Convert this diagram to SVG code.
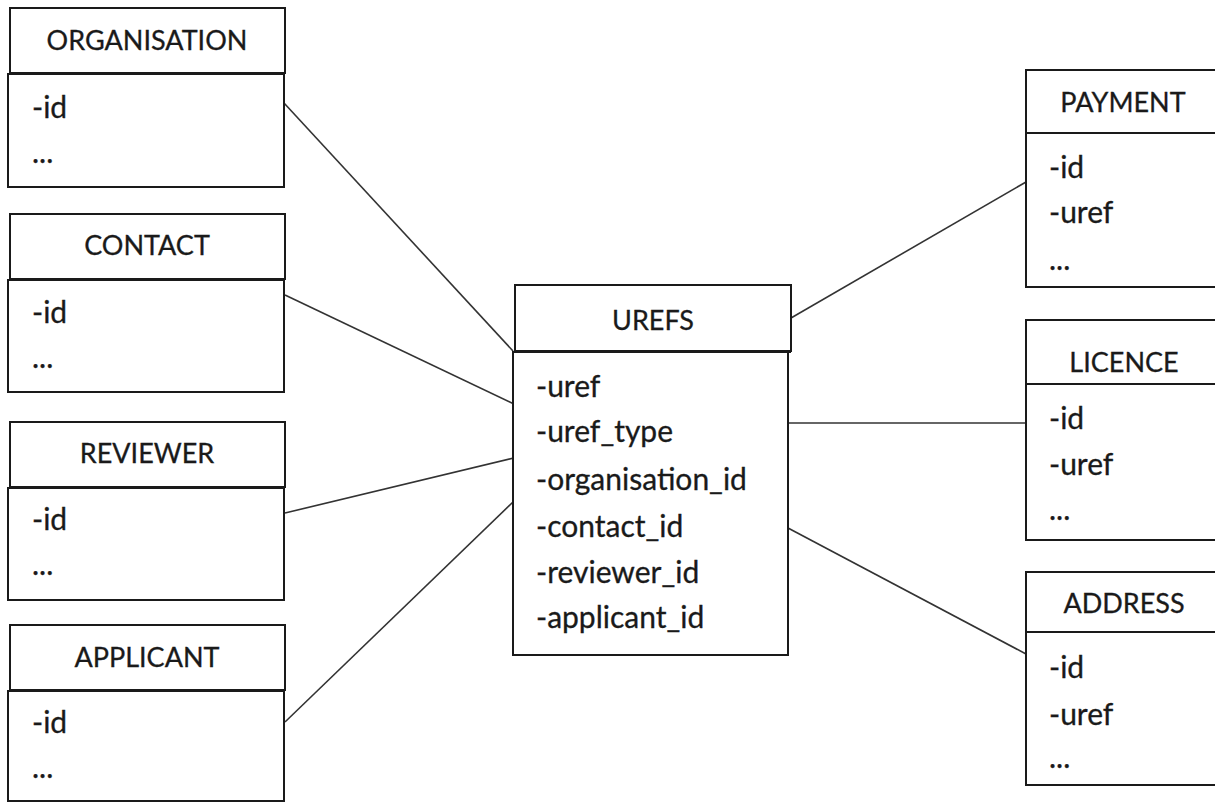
<svg xmlns="http://www.w3.org/2000/svg" width="1215" height="803" viewBox="0 0 1215 803">
  <style>
    .box { fill: #ffffff; stroke: #1a1a1a; stroke-width: 2; }
    .title { font-family: Lato, "Open Sans", sans-serif; font-size: 27px; fill: #1a1a1a; text-anchor: middle; stroke: #1a1a1a; stroke-width: 0.3; }
    .attr { font-family: Lato, "Open Sans", sans-serif; font-size: 30px; fill: #1a1a1a; stroke: #1a1a1a; stroke-width: 0.3; }
    .link { stroke: #333333; stroke-width: 1.6; fill: none; }
  </style>
  <rect width="1215" height="803" fill="#ffffff"/>

  <!-- relationship lines -->
  <g id="connectors">
    <line class="link" x1="284" y1="103" x2="513" y2="351"/>
    <line class="link" x1="285" y1="295" x2="518" y2="406"/>
    <line class="link" x1="285" y1="513" x2="518" y2="457"/>
    <line class="link" x1="285" y1="722" x2="513" y2="502"/>
    <line class="link" x1="791" y1="318" x2="1026" y2="182"/>
    <line class="link" x1="788" y1="423" x2="1026" y2="423"/>
    <line class="link" x1="788" y1="528" x2="1026" y2="654"/>
  </g>

  <!-- left-hand tables -->
  <g id="organisation">
    <rect class="box" x="10" y="8" width="275" height="65"/>
    <rect class="box" x="8" y="74" width="276" height="113"/>
    <text class="title" x="147" y="50">ORGANISATION</text>
    <text class="attr" x="32" y="118">-id</text>
    <text class="attr" x="32" y="163">...</text>
  </g>

  <g id="contact">
    <rect class="box" x="10" y="214" width="275" height="65"/>
    <rect class="box" x="8" y="280" width="276" height="112"/>
    <text class="title" x="147" y="255">CONTACT</text>
    <text class="attr" x="32" y="323">-id</text>
    <text class="attr" x="32" y="368">...</text>
  </g>

  <g id="reviewer">
    <rect class="box" x="10" y="422" width="275" height="65"/>
    <rect class="box" x="8" y="488" width="276" height="112"/>
    <text class="title" x="147" y="463">REVIEWER</text>
    <text class="attr" x="32" y="530">-id</text>
    <text class="attr" x="32" y="575">...</text>
  </g>

  <g id="applicant">
    <rect class="box" x="10" y="625" width="275" height="65"/>
    <rect class="box" x="8" y="691" width="276" height="110"/>
    <text class="title" x="147" y="667">APPLICANT</text>
    <text class="attr" x="32" y="733">-id</text>
    <text class="attr" x="32" y="778">...</text>
  </g>

  <!-- central lookup table -->
  <g id="urefs">
    <rect class="box" x="515" y="285" width="276" height="66"/>
    <rect class="box" x="513" y="352" width="275" height="303"/>
    <line x1="515" y1="351.5" x2="791" y2="351.5" stroke="#1a1a1a" stroke-width="3"/>
    <text class="title" x="653" y="330">UREFS</text>
    <text class="attr" x="536" y="397">-uref</text>
    <text class="attr" x="536" y="442">-uref_type</text>
    <text class="attr" x="536" y="490">-organisation_id</text>
    <text class="attr" x="536" y="537">-contact_id</text>
    <text class="attr" x="536" y="583">-reviewer_id</text>
    <text class="attr" x="536" y="628">-applicant_id</text>
  </g>

  <!-- right-hand tables -->
  <g id="payment">
    <rect class="box" x="1026" y="70" width="200" height="63"/>
    <rect class="box" x="1026" y="133" width="200" height="154"/>
    <text class="title" x="1123" y="112">PAYMENT</text>
    <text class="attr" x="1049" y="178">-id</text>
    <text class="attr" x="1049" y="223">-uref</text>
    <text class="attr" x="1049" y="270">...</text>
  </g>

  <g id="licence">
    <rect class="box" x="1026" y="320" width="200" height="64"/>
    <rect class="box" x="1026" y="384" width="200" height="156"/>
    <text class="title" x="1124" y="372">LICENCE</text>
    <text class="attr" x="1049" y="429">-id</text>
    <text class="attr" x="1049" y="475">-uref</text>
    <text class="attr" x="1049" y="520">...</text>
  </g>

  <g id="address">
    <rect class="box" x="1026" y="572" width="200" height="60"/>
    <rect class="box" x="1026" y="632" width="200" height="153"/>
    <text class="title" x="1124" y="613">ADDRESS</text>
    <text class="attr" x="1049" y="678">-id</text>
    <text class="attr" x="1049" y="725">-uref</text>
    <text class="attr" x="1049" y="768">...</text>
  </g>
</svg>
